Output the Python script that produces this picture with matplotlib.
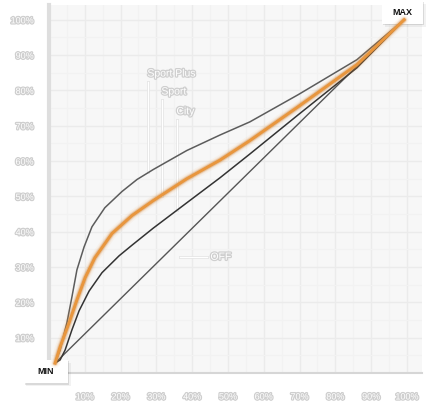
import matplotlib
matplotlib.use('Agg')
import matplotlib.pyplot as plt
import matplotlib.patheffects as pe
from matplotlib.patches import Rectangle

# curve points (percent of throttle / pedal)
SPORT_PLUS_X = [1.7, 3.1, 5.0, 6.4, 7.8, 9.8, 12.0, 15.6, 20.4, 24.6, 29.1, 38.5, 47.8, 56.1, 69.6, 86.0, 99.2]
SPORT_PLUS_Y = [2.8, 6.5, 14.2, 21.5, 29.2, 35.7, 41.4, 46.8, 51.4, 54.8, 57.6, 63.0, 67.4, 71.1, 78.8, 88.7, 100.0]

SPORT_X = [1.7, 3.1, 5.6, 7.8, 10.1, 12.8, 17.6, 23.2, 29.1, 38.5, 47.8, 56.1, 69.6, 86.0, 99.2]
SPORT_Y = [2.8, 7.4, 14.2, 20.7, 27.0, 32.6, 39.5, 44.6, 48.8, 55.0, 60.3, 65.8, 75.4, 87.3, 100.0]

CITY_X = [1.7, 3.1, 4.5, 6.4, 8.4, 11.2, 14.8, 19.6, 23.2, 29.1, 38.5, 47.8, 56.1, 69.6, 86.0, 99.2]
CITY_Y = [2.8, 3.7, 6.5, 12.2, 17.6, 23.2, 28.4, 33.2, 36.2, 41.0, 48.2, 55.3, 62.0, 73.1, 86.4, 100.0]

OFF_X = [1.7, 99.2]
OFF_Y = [2.8, 100.0]

TICKS = [10, 20, 30, 40, 50, 60, 70, 80, 90, 100]
TICK_LABELS = ['10%', '20%', '30%', '40%', '50%', '60%', '70%', '80%', '90%', '100%']

# mode labels: (text, x, y_text, y_curve)
MODE_LABELS = [('Sport Plus', 27.7, 82.4, 56.8),
               ('Sport', 31.6, 77.3, 50.2),
               ('City', 35.8, 71.7, 46.2)]
OFF_LABEL = ('OFF', 36.6, 44.1, 32.9)

W, H = 427, 407
SX, SY = 3.58, 3.53      # pixels per percent
X0, Y0 = 49, 373         # pixel position of 0%, 0%


def px_to_data(x, y):
    return (x - X0) / SX, (Y0 - y) / SY


plt.rcParams['font.family'] = ['Liberation Sans', 'DejaVu Sans']

fig = plt.figure(figsize=(W / 100, H / 100), dpi=100)
fig.patch.set_facecolor('white')
ax = fig.add_axes([X0 / W, (H - Y0) / H, 373 / W, 368 / H])
ax.set_facecolor('#f7f7f7')
ax.set_xlim(0, 104.2)
ax.set_ylim(0, 104.2)

ax.set_xticks(TICKS)
ax.set_yticks(TICKS)
ax.set_xticks([5, 15, 25, 35, 45, 55, 65, 75, 85, 95], minor=True)
ax.set_yticks([5, 15, 25, 35, 45, 55, 65, 75, 85, 95], minor=True)
ax.grid(which='major', color='#ebebeb', lw=1)
ax.grid(which='minor', color='#f2f2f2', lw=0.8)
ax.set_axisbelow(True)

glow = [pe.Stroke(linewidth=1.8, foreground='#cfcfcf'), pe.Normal()]
ax.set_xticklabels(TICK_LABELS, color='white', fontsize=6.5, path_effects=glow)
ax.set_yticklabels(TICK_LABELS, color='white', fontsize=6.5, path_effects=glow)
ax.tick_params(axis='both', which='both', length=0)
ax.tick_params(axis='x', pad=14)
ax.tick_params(axis='y', pad=11)

for s in ['top', 'right']:
    ax.spines[s].set_visible(False)
ax.spines['left'].set_color('#dedede')
ax.spines['left'].set_linewidth(3)
ax.spines['bottom'].set_color('#d6d6d6')
ax.spines['bottom'].set_linewidth(1.5)
ax.spines['bottom'].set_bounds(2.5, 104.2)

# MIN / MAX boxes (pixel boxes converted to data units)
for (bx, by, w, h, label) in [(23, 360, 45, 23, 'MIN'), (382, 1, 41, 23, 'MAX')]:
    dx, dy = px_to_data(bx, by + h)
    dw, dh = w / SX, h / SY
    for off, a in [(3, 0.05), (1.5, 0.10)]:
        ax.add_patch(Rectangle((dx + off / SX, dy - off / SY), dw, dh, fc='black',
                               ec='none', alpha=a, clip_on=False, zorder=2.6))
    ax.add_patch(Rectangle((dx, dy), dw, dh, fc='white', ec='none',
                           clip_on=False, zorder=2.7))
    ax.text(dx + dw / 2, dy + dh / 2, label, ha='center', va='center',
            fontsize=6.5, fontweight='bold', color='#111111', zorder=2.8)

# curves
ax.plot(OFF_X, OFF_Y, color='#555555', lw=1.0, zorder=3, clip_on=False)
ax.plot(CITY_X, CITY_Y, color='#333333', lw=1.1, zorder=3, clip_on=False)
ax.plot(SPORT_PLUS_X, SPORT_PLUS_Y, color='#5c5c5c', lw=1.1, zorder=3, clip_on=False)
for lw, a, c in [(7, 0.06, '#e8943c'), (5, 0.12, '#e8943c'), (3.6, 0.25, '#b8702a')]:
    ax.plot(SPORT_X, SPORT_Y, color=c, lw=lw, alpha=a, zorder=3.5,
            solid_capstyle='round', solid_joinstyle='round', clip_on=False)
ax.plot(SPORT_X, SPORT_Y, color='#e8963e', lw=2.2, zorder=4,
        solid_joinstyle='round', clip_on=False)

# labels with white leader lines
leader = [pe.Stroke(linewidth=2, foreground='#e2e2e2'), pe.Normal()]
for text, x, yt, yc in MODE_LABELS:
    ax.plot([x, x], [yt, yc], color='white', lw=1, zorder=2.5, path_effects=leader)
    ax.text(x - 0.2, yt + 1.0, text, color='white', fontsize=7.5, ha='left', va='bottom',
            path_effects=glow, zorder=5)

text, x0, x1, y = OFF_LABEL
ax.plot([x0, x1], [y, y], color='white', lw=1, zorder=2.5, path_effects=leader)
ax.text(x1 + 1.0, y, text, color='white', fontsize=7.5, ha='left', va='center',
        path_effects=glow, zorder=5)

fig.savefig('out.png', dpi=100)
